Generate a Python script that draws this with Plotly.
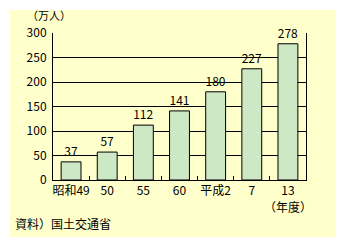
import plotly.graph_objects as go

categories = ["昭和49", "50", "55", "60", "平成2", "7", "13"]
values = [37, 57, 112, 141, 180, 227, 278]
y_ticks = [0, 50, 100, 150, 200, 250, 300]

font_family = "Noto Sans CJK JP"

fig = go.Figure()
fig.add_trace(go.Bar(
    x=categories, y=values,
    marker=dict(color="#cde8c5", line=dict(color="black", width=1)),
    width=0.55,
    text=[str(v) for v in values],
    textposition="outside",
    textangle=0,
    constraintext="none",
    textfont=dict(color="black", size=12, family=font_family),
    cliponaxis=False,
))

fig.update_layout(
    width=346, height=248,
    margin=dict(l=53, r=40, t=33, b=68),
    paper_bgcolor="white",
    plot_bgcolor="rgba(0,0,0,0)",
    showlegend=False,
    font=dict(family=font_family, size=12, color="black"),
    shapes=[dict(type="rect", xref="paper", yref="paper",
                 x0=-43/253, x1=283/253, y0=-57/147, y1=170/147,
                 fillcolor="#ffffcc", line=dict(width=0), layer="below")],
    annotations=[
        dict(text="（万人）", xref="paper", yref="paper", x=-28/253, y=1 + 18/147,
             xanchor="left", yanchor="middle", showarrow=False, font=dict(size=11)),
        dict(text="（年度）", xref="x", yref="paper", x=len(categories) - 1, y=-26/147,
             xanchor="center", yanchor="middle", showarrow=False, font=dict(size=12)),
        dict(text="資料）国土交通省", xref="paper", yref="paper", x=-40/253, y=-44/147,
             xanchor="left", yanchor="middle", showarrow=False, font=dict(size=12)),
    ],
)

fig.update_yaxes(
    range=[0, 300], tickvals=y_ticks, showgrid=True, gridcolor="black", gridwidth=1,
    showline=True, linecolor="black", linewidth=1, mirror=True, ticks="",
    zeroline=False, tickfont=dict(size=12), ticklabelstandoff=3,
)
fig.update_xaxes(
    type="category", categoryorder="array", categoryarray=categories,
    range=[-0.5, len(categories) - 0.5],
    showline=True, linecolor="black", linewidth=1, ticks="inside", ticklen=4,
    tickcolor="black", tickson="boundaries", tickfont=dict(size=12), tickangle=0,
    ticklabelstandoff=0,
)

fig.write_html("out.html")
